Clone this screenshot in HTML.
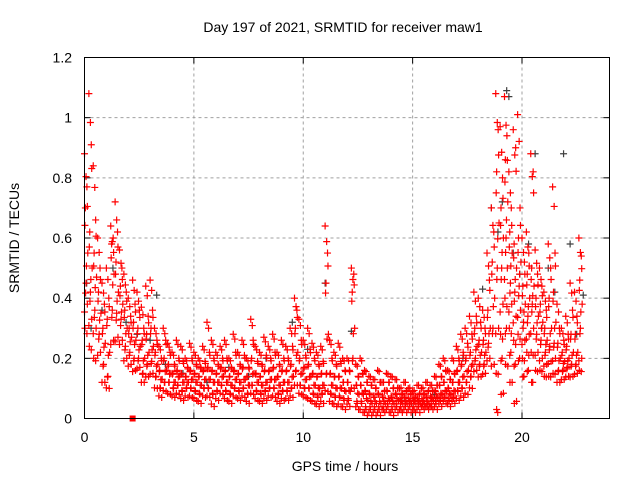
<!DOCTYPE html>
<html><head><meta charset="utf-8"><style>
body{margin:0;background:#fff;}
svg{display:block;font-family:"Liberation Sans",sans-serif;}
</style></head><body>
<svg id="chart" width="640" height="480" xmlns="http://www.w3.org/2000/svg">
<rect width="640" height="480" fill="#fff"/>
<text x="343" y="32" font-size="14" text-anchor="middle">Day 197 of 2021, SRMTID for receiver maw1</text>
<text x="345" y="471" font-size="14" text-anchor="middle">GPS time / hours</text>
<text transform="translate(19,238) rotate(-90)" font-size="14" text-anchor="middle">SRMTID / TECUs</text>
<g id="grid"></g><g id="ticks"></g><g id="blk"></g><g id="red"></g>
<rect x="84.5" y="57.5" width="525" height="361" fill="none" stroke="#000"/>
</svg>
<script>
const xTicks=[0,5,10,15,20];
const yTicks=[0,0.2,0.4,0.6,0.8,1,1.2];
const yTickLabels=["0","0.2","0.4","0.6","0.8","1","1.2"];
const redTimes=[0,0.2,0.4,0.6,0.8,1,1.2,1.4,1.6,1.8,2,2.2,2.4,2.6,2.8,3,3.2,3.4,3.6,3.8,4,4.2,4.4,4.6,4.8,5,5.2,5.4,5.6,5.8,6,6.2,6.4,6.6,6.8,7,7.2,7.4,7.6,7.8,8,8.2,8.4,8.6,8.8,9,9.2,9.4,9.6,9.8,10,10.2,10.4,10.6,10.8,11,11.2,11.4,11.6,11.8,12,12.2,12.4,12.6,12.8,13,13.2,13.4,13.6,13.8,14,14.2,14.4,14.6,14.8,15,15.2,15.4,15.6,15.8,16,16.2,16.4,16.6,16.8,17,17.2,17.4,17.6,17.8,18,18.2,18.4,18.6,18.8,19,19.2,19.4,19.6,19.8,20,20.2,20.4,20.6,20.8,21,21.2,21.4,21.6,21.8,22,22.2,22.4,22.6,22.8];
const redValues=[
[0.88,0.77,0.7,0.55,0.45,0.38,0.3],[1.08,0.91,0.62,0.5,0.42,0.33,0.24],[0.84,0.66,0.55,0.47,0.36,0.3,0.2],[0.6,0.5,0.42,0.35,0.28,0.22],[0.45,0.38,0.3,0.25,0.18,0.12],[0.5,0.4,0.33,0.22,0.14,0.1],
[0.64,0.6,0.58,0.48,0.36,0.26],[0.72,0.62,0.52,0.42,0.35,0.27],[0.56,0.5,0.44,0.38,0.33,0.26],[0.48,0.42,0.36,0.3,0.24,0.2],[0.4,0.34,0.3,0.27,0.22,0.18],[0.46,0.38,0.32,0.26,0.2,0.16],
[0.42,0.36,0.3,0.24,0.2,0.17],[0.37,0.3,0.26,0.2,0.15,0.12],[0.44,0.34,0.28,0.22,0.18,0.14],[0.46,0.36,0.3,0.24,0.19,0.15],[0.3,0.26,0.22,0.18,0.14,0.1],[0.24,0.2,0.16,0.13,0.1,0.07],
[0.3,0.26,0.2,0.16,0.12,0.09],[0.25,0.22,0.18,0.15,0.12,0.08],[0.22,0.18,0.15,0.12,0.1,0.07],[0.26,0.2,0.16,0.14,0.11,0.08],[0.24,0.19,0.15,0.12,0.09,0.06],[0.2,0.17,0.14,0.12,0.1,0.07],
[0.25,0.2,0.16,0.13,0.1,0.07],[0.22,0.18,0.15,0.12,0.09,0.06],[0.2,0.17,0.14,0.11,0.08,0.05],[0.24,0.19,0.16,0.13,0.1,0.07],[0.32,0.22,0.17,0.13,0.1,0.07],[0.26,0.2,0.16,0.12,0.08,0.04],
[0.22,0.18,0.15,0.12,0.09,0.06],[0.24,0.2,0.17,0.14,0.11,0.08],[0.26,0.2,0.16,0.12,0.09,0.06],[0.2,0.17,0.14,0.11,0.08,0.05],[0.28,0.22,0.16,0.13,0.1,0.07],[0.22,0.18,0.15,0.12,0.09,0.06],
[0.26,0.21,0.17,0.13,0.1,0.07],[0.2,0.17,0.14,0.11,0.08,0.05],[0.33,0.26,0.2,0.15,0.11,0.08],[0.24,0.19,0.15,0.12,0.09,0.06],[0.22,0.18,0.14,0.11,0.08,0.05],[0.27,0.21,0.16,0.12,0.09,0.06],
[0.24,0.2,0.16,0.13,0.1,0.07],[0.28,0.22,0.17,0.13,0.1,0.07],[0.22,0.18,0.14,0.11,0.08,0.05],[0.26,0.2,0.16,0.12,0.09,0.06],[0.24,0.2,0.16,0.12,0.09,0.06],[0.3,0.24,0.18,0.14,0.1,0.07],
[0.4,0.36,0.3,0.22,0.16,0.11],[0.33,0.26,0.2,0.15,0.11,0.08],[0.26,0.21,0.17,0.13,0.1,0.07],[0.3,0.23,0.18,0.14,0.1,0.06],[0.25,0.2,0.15,0.11,0.08,0.05],[0.22,0.18,0.14,0.1,0.07,0.04],
[0.24,0.19,0.15,0.11,0.08,0.05],[0.64,0.55,0.45,0.28,0.15,0.09],[0.26,0.2,0.15,0.11,0.08,0.05],[0.22,0.18,0.14,0.1,0.07,0.04],[0.25,0.19,0.14,0.1,0.07,0.04],[0.2,0.16,0.12,0.09,0.06,0.03],
[0.2,0.16,0.12,0.09,0.06,0.04],[0.5,0.48,0.42,0.3,0.2,0.1],[0.18,0.14,0.11,0.08,0.05,0.03],[0.2,0.15,0.11,0.08,0.05,0.02],[0.16,0.12,0.09,0.06,0.03,0.01],[0.14,0.11,0.08,0.05,0.03,0.01],
[0.13,0.1,0.07,0.05,0.03,0.01],[0.16,0.12,0.08,0.05,0.03,0.01],[0.12,0.09,0.07,0.05,0.03,0.02],[0.15,0.12,0.09,0.06,0.04,0.02],[0.14,0.1,0.07,0.05,0.03,0.01],[0.13,0.1,0.08,0.06,0.04,0.02],
[0.1,0.08,0.06,0.05,0.03,0.02],[0.12,0.09,0.07,0.05,0.04,0.02],[0.1,0.08,0.06,0.05,0.04,0.02],[0.09,0.07,0.06,0.05,0.03,0.02],[0.11,0.08,0.06,0.05,0.04,0.02],[0.1,0.08,0.06,0.05,0.04,0.03],
[0.12,0.09,0.07,0.05,0.04,0.03],[0.11,0.09,0.07,0.06,0.04,0.03],[0.14,0.11,0.09,0.07,0.05,0.03],[0.18,0.14,0.11,0.08,0.06,0.04],[0.2,0.16,0.12,0.09,0.07,0.05],[0.16,0.13,0.1,0.08,0.06,0.04],
[0.2,0.15,0.12,0.09,0.07,0.05],[0.24,0.2,0.16,0.12,0.09,0.06],[0.28,0.22,0.18,0.14,0.1,0.07],
[0.3,0.25,0.2,0.16,0.12,0.08],[0.34,0.28,0.22,0.18,0.14,0.1],[0.42,0.34,0.3,0.24,0.2,0.16],[0.4,0.32,0.26,0.22,0.18,0.14],[0.36,0.3,0.26,0.22,0.18,0.15],
[0.55,0.46,0.36,0.3,0.25,0.2],[0.7,0.62,0.52,0.4,0.3,0.18],[1.08,0.96,0.82,0.65,0.5,0.3,0.15,0.02],[0.97,0.8,0.7,0.6,0.5,0.38,0.28,0.2,0.08],[1.07,0.94,0.86,0.72,0.6,0.5,0.4,0.3,0.18],[0.82,0.7,0.62,0.55,0.45,0.38,0.3,0.22,0.12],
[0.96,0.9,0.58,0.5,0.42,0.34,0.26,0.18,0.05],[1.01,0.7,0.6,0.52,0.44,0.36,0.28,0.2],[0.6,0.52,0.44,0.38,0.32,0.26,0.2,0.14],[0.62,0.55,0.48,0.4,0.34,0.28,0.22,0.16],[0.88,0.82,0.5,0.44,0.38,0.3,0.22,0.12],[0.56,0.48,0.4,0.34,0.28,0.22,0.16],
[0.5,0.44,0.38,0.32,0.26,0.2,0.16],[0.42,0.36,0.3,0.26,0.22,0.18,0.14],[0.58,0.5,0.4,0.3,0.24,0.19,0.14],[0.77,0.55,0.42,0.32,0.25,0.2,0.15],[0.38,0.3,0.25,0.2,0.16,0.12],[0.3,0.26,0.22,0.19,0.16,0.13],
[0.34,0.28,0.24,0.2,0.17,0.14],[0.45,0.36,0.28,0.22,0.18,0.14],[0.42,0.34,0.28,0.22,0.18,0.15],[0.6,0.54,0.46,0.38,0.3,0.2,0.16]];
const blackTimes=[0.1,0.3,0.8,1.3,1.9,2.4,3,3.3,3.7,4.5,5.6,6.6,7.5,8.3,9.5,10.2,11,12.2,14.5,16,17.3,18.2,18.6,18.9,19.1,19.3,19.4,19.6,19.9,20.3,20.6,20.9,21.2,21.5,21.9,22.2,22.5,22.8];
const blackValues=[0.45,0.3,0.36,0.5,0.32,0.28,0.26,0.41,0.18,0.15,0.12,0.17,0.14,0.2,0.32,0.23,0.45,0.29,0.06,0.08,0.2,0.43,0.7,0.62,0.72,1.09,1.07,0.55,0.48,0.58,0.88,0.3,0.5,0.42,0.88,0.58,0.28,0.41];
const X0=84.5,X1=609.5,Y0=418.5,Y1=57.5;
function xs(t){return X0+(t/24)*(X1-X0);}
function ys(v){return Y0-(v/1.2)*(Y0-Y1);}
const NS="http://www.w3.org/2000/svg";
const grid=document.getElementById('grid'),ticks=document.getElementById('ticks');
function mk(tag,attrs,parent){const e=document.createElementNS(NS,tag);for(const k in attrs)e.setAttribute(k,attrs[k]);parent.appendChild(e);return e;}
xTicks.forEach(t=>{
  const x=xs(t);
  if(t>0){const g=mk('line',{x1:x,y1:Y0,x2:x,y2:Y1,stroke:'#a0a0a0','stroke-dasharray':'3,3'},grid);
  
  }
  mk('line',{x1:x,y1:Y0,x2:x,y2:Y0-6,stroke:'#000'},ticks);
  mk('line',{x1:x,y1:Y1,x2:x,y2:Y1+6,stroke:'#000'},ticks);
  const l=mk('text',{x:x,y:442,'font-size':14,'text-anchor':'middle'},ticks);
  l.textContent=t;
  
  
});
yTicks.forEach((v,i)=>{
  const y=ys(v);
  if(v>0&&v<1.2){const g=mk('line',{x1:X0,y1:y,x2:X1,y2:y,stroke:'#a0a0a0','stroke-dasharray':'3,3'},grid);
  
  }
  mk('line',{x1:X0,y1:y,x2:X0+6,y2:y,stroke:'#000'},ticks);
  mk('line',{x1:X1,y1:y,x2:X1-6,y2:y,stroke:'#000'},ticks);
  const l=mk('text',{x:72,y:y+5,'font-size':14,'text-anchor':'end'},ticks);
  l.textContent=yTickLabels[i];
  
  
});
function plus(x,y,col,parent,name){
  const p=mk('path',{d:`M${x-3.5} ${y}h7M${x} ${y-3.5}v7`,stroke:col,'stroke-width':1.2,fill:'none'},parent);
  
  
}
const jit=[0,0.11,0.04,0.15,0.07,0.13,0.02,0.09,0.05];
const blk=document.getElementById('blk'),red=document.getElementById('red');
blackTimes.forEach((t,i)=>plus(xs(t),ys(blackValues[i]),'#404040',blk,'black-point'));
redTimes.forEach((t,i)=>{
  (redValues[i]||[]).forEach((v,j)=>{
    plus(xs(t+jit[j%9]),ys(v),'#ff0000',red,'red-point');
    plus(xs(t+jit[(j+4)%9]),ys(v*0.9+0.012),'#ff0000',red,'red-point');
  });
});
const m=mk('rect',{x:xs(2.2)-3,y:Y0-3,width:6,height:6,fill:'#ff0000'},red);


</script>
</body></html>
